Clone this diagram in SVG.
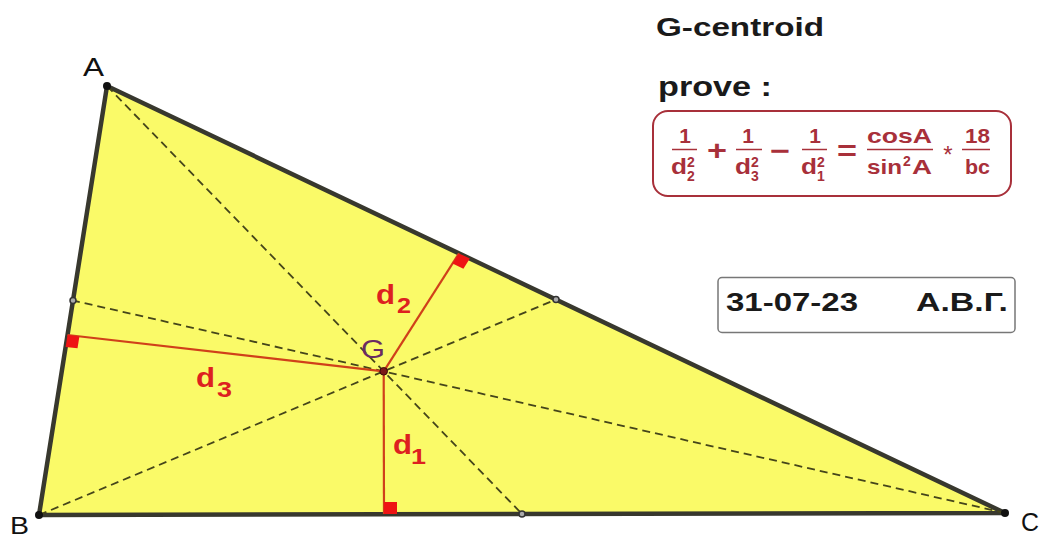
<svg xmlns="http://www.w3.org/2000/svg" width="1039" height="540" viewBox="0 0 1039 540">
<style>
.tri{fill:#fafa68;stroke:#38382e;stroke-width:4.5;stroke-linejoin:round}
.med{stroke:#45451a;stroke-width:1.8;stroke-dasharray:8 5;fill:none}
.perp{stroke:#d0401a;stroke-width:2.2;fill:none}
.sq{fill:#ee1414}
.vtx{fill:#111}
.mid{fill:#aaa;stroke:#333;stroke-width:1.5}
.lbl{font-family:"Liberation Sans",Arial,sans-serif;font-size:26px;fill:#111}
.dl{font-family:"Liberation Sans",Arial,sans-serif;font-weight:bold;fill:#dd2020}
.hd{font-family:"Liberation Sans",Arial,sans-serif;font-weight:bold;fill:#1a1a1a}
.fm{font-family:"Liberation Sans",Arial,sans-serif;font-weight:bold;fill:#a8303a}
.op{font-family:"Liberation Sans",Arial,sans-serif;font-weight:bold;fill:#a8303a}
.bar{stroke:#a8303a;stroke-width:1.5}
</style>

<g id="triangle">
  <polygon class="tri" points="107,86 39,515 1005,513"/>
</g>

<g id="connectors">
  <line class="med" x1="107" y1="86" x2="522" y2="514"/>
  <line class="med" x1="39" y1="515" x2="556" y2="299.5"/>
  <line class="med" x1="1005" y1="513" x2="73" y2="300.5"/>
  <line class="perp" x1="383.7" y1="371.3" x2="384" y2="514"/>
  <line class="perp" x1="383.7" y1="371.3" x2="459" y2="253.4"/>
  <line class="perp" x1="383.7" y1="371.3" x2="67.5" y2="335"/>
  <polygon class="sq" points="384,514 397,514 397,502 384,502"/>
  <polygon class="sq" points="459,253.4 469.8,258.6 463.4,268.7 452.5,263.5"/>
  <polygon class="sq" points="67.5,335 79.4,336.4 77.5,348.2 65.6,346.9"/>
</g>

<g id="points">
  <circle class="vtx" cx="107" cy="86" r="4"/>
  <circle class="vtx" cx="39" cy="515" r="4"/>
  <circle class="vtx" cx="1005" cy="513" r="4"/>
  <circle class="mid" cx="73" cy="300.5" r="3"/>
  <circle class="mid" cx="556" cy="299.5" r="3"/>
  <circle class="mid" cx="522" cy="514" r="3"/>
  <circle id="G" cx="383.7" cy="371.3" r="3.8" fill="#7a1818" stroke="#3a0a0a" stroke-width="1"/>
</g>

<g id="labels">
  <text class="lbl" x="83" y="76" textLength="21" lengthAdjust="spacingAndGlyphs">A</text>
  <text class="lbl" x="10" y="534" style="font-size:24px" textLength="19" lengthAdjust="spacingAndGlyphs">B</text>
  <text class="lbl" x="1021" y="531" textLength="18" lengthAdjust="spacingAndGlyphs">C</text>
  <text class="lbl" x="361" y="358" style="fill:#6a2a62;font-size:25px" textLength="24" lengthAdjust="spacingAndGlyphs">G</text>
  <text class="dl" x="376" y="304" font-size="27" textLength="19" lengthAdjust="spacingAndGlyphs">d</text>
  <text class="dl" x="397" y="313" font-size="22" textLength="14" lengthAdjust="spacingAndGlyphs">2</text>
  <text class="dl" x="196" y="387" font-size="27" textLength="19" lengthAdjust="spacingAndGlyphs">d</text>
  <text class="dl" x="217" y="397" font-size="22" textLength="15" lengthAdjust="spacingAndGlyphs">3</text>
  <text class="dl" x="393" y="454" font-size="27" textLength="19" lengthAdjust="spacingAndGlyphs">d</text>
  <text class="dl" x="411" y="464" font-size="22" textLength="15" lengthAdjust="spacingAndGlyphs">1</text>
</g>

<g id="title">
  <text class="hd" x="656" y="36" font-size="26" textLength="168" lengthAdjust="spacingAndGlyphs">G-centroid</text>
  <text class="hd" x="658" y="96" font-size="27" textLength="114" lengthAdjust="spacingAndGlyphs">prove :</text>
</g>

<g id="formula">
  <rect x="653" y="111" width="358" height="85" rx="15" fill="#fff" stroke="#a8303a" stroke-width="2"/>
  <text class="fm" x="685" y="143" font-size="21" text-anchor="middle">1</text>
  <line class="bar" x1="672" y1="149.5" x2="697" y2="149.5"/>
  <text class="fm" x="671" y="174" font-size="22" textLength="16" lengthAdjust="spacingAndGlyphs">d</text>
  <text class="fm" x="687" y="167" font-size="14">2</text>
  <text class="fm" x="687" y="181" font-size="14">2</text>

  <text class="op" x="717" y="160" font-size="27" text-anchor="middle" textLength="20" lengthAdjust="spacingAndGlyphs">+</text>

  <text class="fm" x="748" y="143" font-size="21" text-anchor="middle">1</text>
  <line class="bar" x1="736" y1="149.5" x2="762" y2="149.5"/>
  <text class="fm" x="735" y="174" font-size="22" textLength="16" lengthAdjust="spacingAndGlyphs">d</text>
  <text class="fm" x="751" y="167" font-size="14">2</text>
  <text class="fm" x="751" y="181" font-size="14">3</text>

  <text class="op" x="780" y="160" font-size="27" text-anchor="middle" textLength="20" lengthAdjust="spacingAndGlyphs">−</text>

  <text class="fm" x="815" y="143" font-size="21" text-anchor="middle">1</text>
  <line class="bar" x1="802" y1="149.5" x2="827" y2="149.5"/>
  <text class="fm" x="801" y="174" font-size="22" textLength="16" lengthAdjust="spacingAndGlyphs">d</text>
  <text class="fm" x="817" y="167" font-size="14">2</text>
  <text class="fm" x="817" y="181" font-size="14">1</text>

  <text class="op" x="847" y="160" font-size="27" text-anchor="middle" textLength="20" lengthAdjust="spacingAndGlyphs">=</text>

  <text class="fm" x="867" y="143" font-size="21" textLength="65" lengthAdjust="spacingAndGlyphs">cosA</text>
  <line class="bar" x1="867" y1="149.5" x2="933" y2="149.5"/>
  <text class="fm" x="867" y="174" font-size="21" textLength="35" lengthAdjust="spacingAndGlyphs">sin</text>
  <text class="fm" x="903" y="166" font-size="14">2</text>
  <text class="fm" x="912" y="174" font-size="21" textLength="20" lengthAdjust="spacingAndGlyphs">A</text>

  <text class="op" x="948" y="163" font-size="24" text-anchor="middle" style="font-weight:normal">*</text>

  <text class="fm" x="965" y="143" font-size="21" textLength="25" lengthAdjust="spacingAndGlyphs">18</text>
  <line class="bar" x1="962" y1="149.5" x2="990" y2="149.5"/>
  <text class="fm" x="965" y="174" font-size="21" textLength="25" lengthAdjust="spacingAndGlyphs">bc</text>
</g>

<g id="date">
  <rect x="718" y="277.5" width="297" height="55" rx="4" fill="#fff" stroke="#777" stroke-width="1.5"/>
  <text class="hd" x="726" y="311" font-size="25" textLength="132" lengthAdjust="spacingAndGlyphs">31-07-23</text>
  <text class="hd" x="916" y="311" font-size="25" textLength="92" lengthAdjust="spacingAndGlyphs">А.В.Г.</text>
</g>
</svg>
